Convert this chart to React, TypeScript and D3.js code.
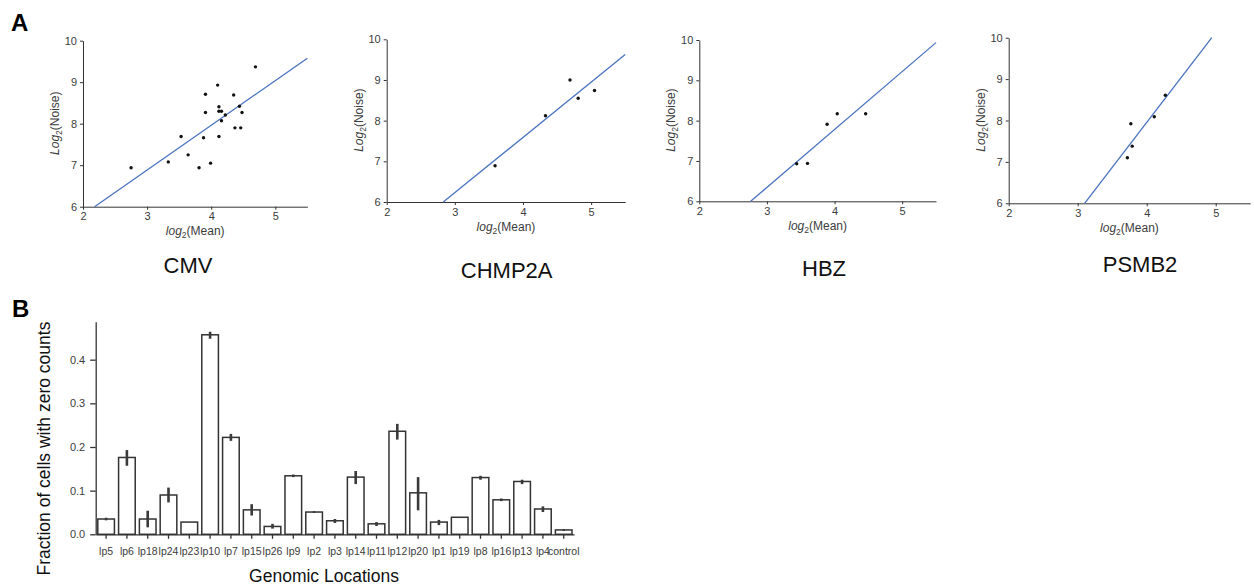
import React, { useEffect, useRef } from "react";
import * as d3 from "d3";

const W = 1254;
const H = 588;
const FONT = "Arial, 'Liberation Sans', Helvetica, sans-serif";
const INK = "#333333";
const LABEL = "#3c3c3c";
const FIT_COLOR = "#4a72bf";

// ---- Panel A: log2(mean) vs log2(noise) per gene ----
const genes = ["CMV", "CHMP2A", "HBZ", "PSMB2"];

const cmvMean = [2.75, 3.33, 3.53, 3.64, 3.81, 3.88, 3.91, 3.91, 3.99, 4.10, 4.12, 4.12, 4.12, 4.16, 4.16, 4.22, 4.35, 4.37, 4.44, 4.46, 4.48, 4.69];
const cmvNoise = [6.94, 7.08, 7.69, 7.25, 6.94, 7.66, 8.27, 8.71, 7.05, 8.93, 7.69, 8.41, 8.30, 8.30, 8.07, 8.21, 8.69, 7.90, 8.42, 7.90, 8.27, 9.37];

const chmp2aMean = [3.59, 4.33, 4.69, 4.81, 5.05];
const chmp2aNoise = [6.89, 8.12, 9.00, 8.55, 8.74];

const hbzMean = [3.44, 3.60, 3.89, 4.04, 4.46];
const hbzNoise = [6.93, 6.94, 7.91, 8.17, 8.17];

const psmb2Mean = [3.72, 3.77, 3.79, 4.11, 4.27];
const psmb2Noise = [7.10, 7.92, 7.38, 8.09, 8.61];

const geneMeans = [cmvMean, chmp2aMean, hbzMean, psmb2Mean];
const geneNoises = [cmvNoise, chmp2aNoise, hbzNoise, psmb2Noise];

// linear fit: noise = slope * mean + intercept
const fitSlope = [1.078, 1.357, 1.436, 2.17];
const fitIntercept = [3.65, 2.16, 2.037, -0.727];

const meanTicks = [2, 3, 4, 5];
const noiseTicks = [6, 7, 8, 9, 10];

// ---- Panel B: fraction of cells with zero counts per location ----
const locations = ["lp5", "lp6", "lp18", "lp24", "lp23", "lp10", "lp7", "lp15", "lp26", "lp9", "lp2", "lp3", "lp14", "lp11", "lp12", "lp20", "lp1", "lp19", "lp8", "lp16", "lp13", "lp4", "control"];
const zeroFraction = [0.035, 0.176, 0.035, 0.090, 0.028, 0.457, 0.222, 0.056, 0.018, 0.134, 0.051, 0.031, 0.131, 0.024, 0.236, 0.095, 0.028, 0.039, 0.130, 0.079, 0.121, 0.058, 0.010];
const ciLow = [0.032, 0.157, 0.016, 0.073, 0.028, 0.448, 0.214, 0.043, 0.013, 0.131, 0.049, 0.026, 0.115, 0.019, 0.217, 0.055, 0.021, 0.039, 0.125, 0.076, 0.115, 0.051, 0.008];
const ciHigh = [0.038, 0.193, 0.054, 0.107, 0.028, 0.464, 0.230, 0.069, 0.024, 0.137, 0.053, 0.035, 0.145, 0.028, 0.253, 0.131, 0.033, 0.039, 0.134, 0.082, 0.125, 0.064, 0.012];
const fractionTicks = [0, 0.1, 0.2, 0.3, 0.4];

// scatter panel frames: [left, right, bottom, top], title centre and baseline
const frames = [
  { l: 83, r: 307.4, b: 206.7, t: 40.7, tx: 188, ty: 273 },
  { l: 386.7, r: 625.2, b: 202, t: 39.3, tx: 506.7, ty: 278 },
  { l: 699.3, r: 936, b: 201.3, t: 40, tx: 824, ty: 276 },
  { l: 1008.7, r: 1250.2, b: 203.3, t: 37.7, tx: 1140, ty: 272 },
];

function styleAxis(g: d3.Selection<SVGGElement, unknown, null, undefined>, size: number, width: number) {
  g.select(".domain").attr("stroke", INK).attr("stroke-width", width);
  g.selectAll(".tick line").attr("stroke", INK).attr("stroke-width", width);
  g.selectAll(".tick text").attr("fill", LABEL).attr("font-size", size).attr("font-family", FONT);
}

export default function App() {
  const ref = useRef<SVGSVGElement | null>(null);

  useEffect(() => {
    const svg = d3.select(ref.current);
    svg.selectAll("*").remove();

    // panel letters
    svg.append("text").attr("x", 11).attr("y", 30.5).text("A")
      .attr("font-family", FONT).attr("font-weight", "bold").attr("font-size", 24).attr("fill", "#000");
    svg.append("text").attr("x", 12).attr("y", 316.5).text("B")
      .attr("font-family", FONT).attr("font-weight", "bold").attr("font-size", 24).attr("fill", "#000");

    // ---- scatter panels ----
    genes.forEach((gene, i) => {
      const f = frames[i];
      const x = d3.scaleLinear().domain([2, 5.5]).range([f.l, f.r]);
      const y = d3.scaleLinear().domain([6, 10]).range([f.b, f.t]);
      const panel = svg.append("g");

      const gx = panel.append("g").attr("transform", `translate(0,${f.b})`)
        .call(d3.axisBottom(x).tickValues(meanTicks).tickSize(3).tickSizeOuter(0).tickPadding(3).tickFormat(d3.format("d")));
      styleAxis(gx, 11, 1);
      const gy = panel.append("g").attr("transform", `translate(${f.l},0)`)
        .call(d3.axisLeft(y).tickValues(noiseTicks).tickSize(3).tickSizeOuter(0).tickPadding(3).tickFormat(d3.format("d")));
      styleAxis(gy, 11, 1);

      // fitted line, clipped to the axes box
      const s = fitSlope[i], c = fitIntercept[i];
      const x0 = Math.max(2, (6 - c) / s);
      const x1 = Math.min(5.5, (10 - c) / s);
      panel.append("line")
        .attr("x1", x(x0)).attr("y1", y(s * x0 + c))
        .attr("x2", x(x1)).attr("y2", y(s * x1 + c))
        .attr("stroke", FIT_COLOR).attr("stroke-width", 1.3);

      const means = geneMeans[i], noises = geneNoises[i];
      panel.append("g").selectAll("circle").data(means).join("circle")
        .attr("cx", (d) => x(d)).attr("cy", (_, k) => y(noises[k]))
        .attr("r", 1.7).attr("fill", "#111");

      // axis titles
      const xl = panel.append("text").attr("x", (f.l + f.r) / 2).attr("y", f.b + 28.5)
        .attr("text-anchor", "middle").attr("font-family", FONT).attr("font-size", 12).attr("fill", LABEL);
      xl.append("tspan").attr("font-style", "italic").text("log");
      xl.append("tspan").attr("font-size", 8.5).attr("dy", 3).text("2");
      xl.append("tspan").attr("dy", -3).text("(Mean)");

      const yl = panel.append("text")
        .attr("transform", `translate(${f.l - 24},${(f.t + f.b) / 2 - 0.5}) rotate(-90)`)
        .attr("text-anchor", "middle").attr("font-family", FONT).attr("font-size", 12).attr("fill", LABEL);
      yl.append("tspan").attr("font-style", "italic").text("Log");
      yl.append("tspan").attr("font-size", 8.5).attr("dy", 3).text("2");
      yl.append("tspan").attr("dy", -3).text("(Noise)");

      panel.append("text").attr("x", f.tx).attr("y", f.ty).attr("text-anchor", "middle")
        .attr("font-family", FONT).attr("font-size", 22).attr("fill", "#111").text(gene);
    });

    // ---- bar chart ----
    const bx = d3.scaleBand().domain(locations).range([95.7, 574.1]).paddingInner(0.2).paddingOuter(0.1);
    const by = d3.scaleLinear().domain([0, 0.487]).range([534.3, 321.7]);
    const bars = svg.append("g");

    bars.append("g").selectAll("rect").data(locations).join("rect")
      .attr("x", (d) => bx(d)!)
      .attr("y", (_, k) => by(zeroFraction[k]))
      .attr("width", bx.bandwidth())
      .attr("height", (_, k) => by(0) - by(zeroFraction[k]))
      .attr("fill", "#fff").attr("stroke", INK).attr("stroke-width", 1.5);

    bars.append("g").selectAll("line").data(locations).join("line")
      .attr("x1", (d) => bx(d)! + bx.bandwidth() / 2)
      .attr("x2", (d) => bx(d)! + bx.bandwidth() / 2)
      .attr("y1", (_, k) => by(ciLow[k]))
      .attr("y2", (_, k) => by(ciHigh[k]))
      .attr("stroke", "#3a3a3a").attr("stroke-width", 2.6);

    const bgx = bars.append("g").attr("transform", `translate(0,${by(0)})`)
      .call(d3.axisBottom(bx).tickSize(4.5).tickSizeOuter(0).tickPadding(8.3));
    styleAxis(bgx, 10.5, 1.3);
    const bgy = bars.append("g").attr("transform", "translate(95.7,0)")
      .call(d3.axisLeft(by).tickValues(fractionTicks).tickSize(5.5).tickSizeOuter(0).tickPadding(5).tickFormat(d3.format(".1f")));
    styleAxis(bgy, 11, 1.3);

    bars.append("text").attr("x", 324).attr("y", 582).attr("text-anchor", "middle")
      .attr("font-family", FONT).attr("font-size", 17.5).attr("fill", "#111").text("Genomic Locations");
    bars.append("text").attr("transform", "translate(49.5,448.5) rotate(-90)").attr("text-anchor", "middle")
      .attr("font-family", FONT).attr("font-size", 17.5).attr("fill", "#111").text("Fraction of cells with zero counts");
  }, []);

  return (
    <svg ref={ref} width={W} height={H} viewBox={`0 0 ${W} ${H}`}
      style={{ position: "absolute", left: 0, top: 0, background: "#fff" }} />
  );
}
